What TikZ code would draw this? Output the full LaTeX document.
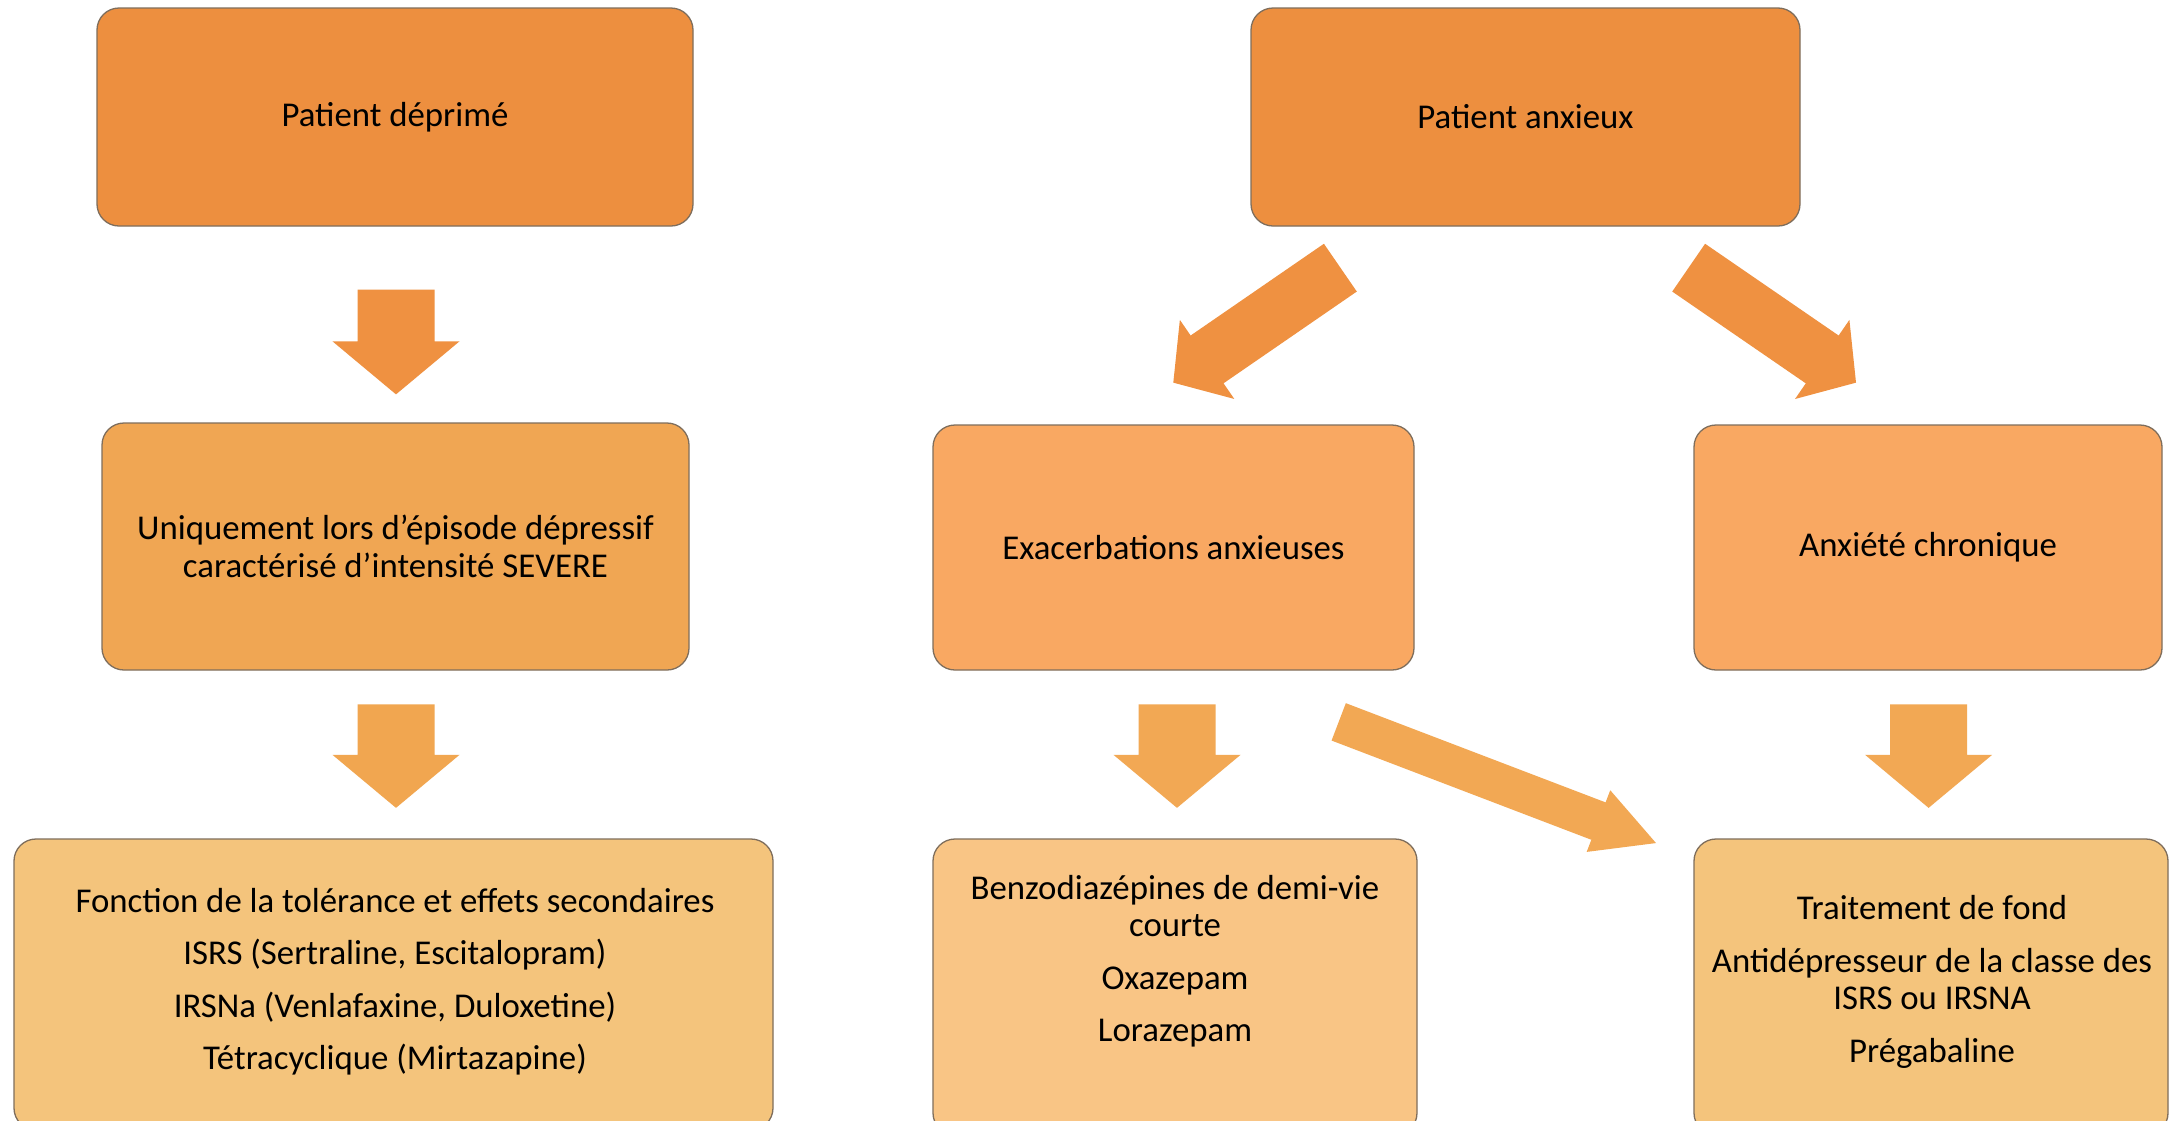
\documentclass[tikz,border=0pt]{standalone}
\usepackage{fontspec}
\setmainfont{Carlito}
\usetikzlibrary{calc}
\definecolor{cA}{HTML}{ED8F3F}
\definecolor{cAarrow}{HTML}{EF9141}
\definecolor{cB}{HTML}{F0A653}
\definecolor{cBarrow}{HTML}{F1A650}
\definecolor{cC}{HTML}{F9A862}
\definecolor{cCarrow}{HTML}{F2A854}
\definecolor{cD}{HTML}{F4C47C}
\definecolor{cE}{HTML}{F9C585}
\definecolor{edgecol}{HTML}{7F6E5C}
\tikzset{
  box/.style={draw=edgecol, line width=1.3pt, rounded corners=22pt, inner sep=0pt,
    align=center, font=\fontsize{34.8}{37.5}\selectfont},
  txt/.style={align=center, inner sep=0pt, font=\fontsize{34.8}{37.5}\selectfont},
}
% block arrow: start, end, shaft half width, head half width, head length, colour
\newcommand\blockarrow[6]{%
  \coordinate (ba-s) at #1;
  \coordinate (ba-e) at #2;
  \coordinate (ba-p) at ($(ba-e)!#5!(ba-s)$);
  \fill[#6] ($(ba-s)!#3!90:(ba-e)$) -- ($(ba-p)!#3!-90:(ba-s)$)
    -- ($(ba-p)!#4!-90:(ba-s)$) -- (ba-e) -- ($(ba-p)!#4!90:(ba-s)$)
    -- ($(ba-p)!#3!90:(ba-s)$) -- ($(ba-s)!#3!-90:(ba-e)$) -- cycle;
}
\begin{document}
\begin{tikzpicture}[x=1pt,y=-1pt]
\useasboundingbox (0,0) rectangle (2174,1120);
\clip (0,0) rectangle (2174,1120);
\fill[white] (0,0) rectangle (2174,1120);

% top row
\node[box, fill=cA, minimum width=596pt, minimum height=218pt] (b1) at (395,117) {Patient déprimé};
\node[box, fill=cA, minimum width=549pt, minimum height=218pt] (b2) at (1525.5,117) {Patient anxieux};
% middle row
\node[box, fill=cB, minimum width=587pt, minimum height=247pt] (b3) at (395.5,546.5)
  {Uniquement lors d’épisode dépressif\\caractérisé d’intensité SEVERE};
\node[box, fill=cC, minimum width=481pt, minimum height=245pt] (b4) at (1173.5,547.5) {Exacerbations anxieuses};
\node[box, fill=cC, minimum width=468pt, minimum height=245pt] (b5) at (1928,547.5) {Anxiété chronique};
% bottom row (cut by the frame)
\node[box, fill=cD, minimum width=759pt, minimum height=291pt] (b6) at (393.5,984.5) {};
\node[box, fill=cE, minimum width=484pt, minimum height=296pt] (b7) at (1175,987) {};
\node[box, fill=cD, minimum width=474pt, minimum height=296pt] (b8) at (1931,987) {};

\node[txt] (t6) at (395,981.5) {Fonction de la tolérance et effets secondaires\\[15pt]
  ISRS (Sertraline, Escitalopram)\\[15pt]
  IRSNa (Venlafaxine, Duloxetine)\\[15pt]
  Tétracyclique (Mirtazapine)};
\node[txt] (t7) at (1175,961) {Benzodiazépines de demi-vie\\courte\\[15pt]
  Oxazepam\\[15pt]
  Lorazepam};
\node[txt] (t8) at (1932,982) {Traitement de fond\\[15pt]
  Antidépresseur de la classe des\\ISRS ou IRSNA\\[15pt]
  Prégabaline};

% block arrows
\blockarrow{($(b1.south)+(1,63)$)}{($(b3.north)+(0.5,-28)$)}{38.5pt}{63.5pt}{53pt}{cAarrow}
\blockarrow{($(b3.south)+(0.5,33.6)$)}{($(b6.north)+(2.5,-30.5)$)}{38.5pt}{63.5pt}{53pt}{cBarrow}
\blockarrow{($(b4.south)+(3.5,33.6)$)}{($(b7.north)+(2,-30.5)$)}{38.5pt}{63.5pt}{53pt}{cCarrow}
\blockarrow{($(b5.south)+(0.6,33.6)$)}{($(b8.north)+(-2.4,-30.5)$)}{38.5pt}{63.5pt}{53pt}{cCarrow}

\blockarrow{($(b2.south)+(-185.15,41)$)}{($(b4.north)+(-0.2,-41.7)$)}{29pt}{48pt}{41pt}{cAarrow}
\blockarrow{($(b2.south)+(163.15,41)$)}{($(b5.north)+(-72,-41.7)$)}{29pt}{48pt}{41pt}{cAarrow}
\blockarrow{($(b4.south)+(165.2,51.2)$)}{($(b8.north)+(-275,4.7)$)}{20pt}{33pt}{61.6pt}{cCarrow}
\end{tikzpicture}
\end{document}
